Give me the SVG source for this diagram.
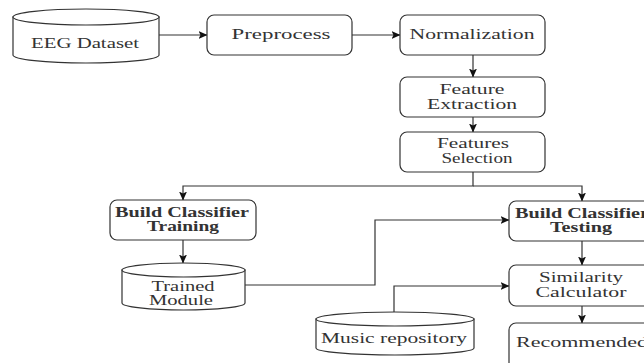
<svg xmlns="http://www.w3.org/2000/svg" width="644" height="363" viewBox="0 0 644 363">
<defs>
<style>
.box{fill:#fff;stroke:#333;stroke-width:1.2}
.cyl{fill:#fff;stroke:#333;stroke-width:1.2}
.t{font-family:"Liberation Serif","Times New Roman",serif;font-size:14px;fill:#333;text-anchor:middle}
.b{font-weight:bold}
.c{fill:none;stroke:#333;stroke-width:1.2}
</style>
<marker id="arr" viewBox="0 0 9 8" refX="8.5" refY="4" markerWidth="9" markerHeight="8" markerUnits="userSpaceOnUse" orient="auto">
<path d="M0,0 L9,4 L0,8 L2,4 Z" fill="#111"/>
</marker>
</defs>
<rect width="644" height="363" fill="#fff"/>

<g id="connectors">
<path class="c" d="M159,35 H207" marker-end="url(#arr)"/>
<path class="c" d="M352,35 H400" marker-end="url(#arr)"/>
<path class="c" d="M473,55 V77" marker-end="url(#arr)"/>
<path class="c" d="M473,117 V132" marker-end="url(#arr)"/>
<path class="c" d="M473,172 V186 H183 V200" marker-end="url(#arr)"/>
<path class="c" d="M473,186 H582 V201" marker-end="url(#arr)"/>
<path class="c" d="M183,240 V263" marker-end="url(#arr)"/>
<path class="c" d="M245,285 H375 V220 H509" marker-end="url(#arr)"/>
<path class="c" d="M582,241 V265" marker-end="url(#arr)"/>
<path class="c" d="M394,312 V286 H509" marker-end="url(#arr)"/>
<path class="c" d="M582,306 V323" marker-end="url(#arr)"/>
</g>

<g id="eeg">
<path class="cyl" d="M13,17 L13,55 A73,8 0 0 0 159,55 L159,17 Z"/>
<ellipse class="cyl" cx="86" cy="17" rx="73" ry="8"/>
<text class="t" x="85" y="48" textLength="108" lengthAdjust="spacingAndGlyphs">EEG Dataset</text>
</g>

<g id="preprocess">
<rect class="box" x="207" y="15" width="145" height="40" rx="7"/>
<text class="t" x="281" y="39" textLength="99" lengthAdjust="spacingAndGlyphs">Preprocess</text>
</g>

<g id="normalization">
<rect class="box" x="400" y="15" width="145" height="40" rx="7"/>
<text class="t" x="472" y="39" textLength="125" lengthAdjust="spacingAndGlyphs">Normalization</text>
</g>

<g id="feature-extraction">
<rect class="box" x="400" y="77" width="145" height="40" rx="7"/>
<text class="t" x="472" y="94" textLength="65" lengthAdjust="spacingAndGlyphs">Feature</text>
<text class="t" x="472" y="109" textLength="90" lengthAdjust="spacingAndGlyphs">Extraction</text>
</g>

<g id="features-selection">
<rect class="box" x="400" y="132" width="145" height="40" rx="7"/>
<text class="t" x="473" y="148" textLength="72" lengthAdjust="spacingAndGlyphs">Features</text>
<text class="t" x="477" y="163" textLength="71" lengthAdjust="spacingAndGlyphs">Selection</text>
</g>

<g id="bc-training">
<rect class="box" x="110" y="200" width="146" height="40" rx="7"/>
<text class="t b" x="182" y="217" textLength="134" lengthAdjust="spacingAndGlyphs">Build Classifier</text>
<text class="t b" x="183" y="231" textLength="72" lengthAdjust="spacingAndGlyphs">Training</text>
</g>

<g id="bc-testing">
<rect class="box" x="509" y="201" width="146" height="40" rx="7"/>
<text class="t b" x="582" y="218" textLength="134" lengthAdjust="spacingAndGlyphs">Build Classifier</text>
<text class="t b" x="581" y="232" textLength="62" lengthAdjust="spacingAndGlyphs">Testing</text>
</g>

<g id="trained-module">
<path class="cyl" d="M122,270 L122,303 A61.5,7 0 0 0 245,303 L245,270 Z"/>
<ellipse class="cyl" cx="183.5" cy="270" rx="61.5" ry="7"/>
<text class="t" x="183" y="291" textLength="63" lengthAdjust="spacingAndGlyphs">Trained</text>
<text class="t" x="181" y="305" textLength="64" lengthAdjust="spacingAndGlyphs">Module</text>
</g>

<g id="similarity">
<rect class="box" x="509" y="265" width="146" height="41" rx="7"/>
<text class="t" x="581" y="282" textLength="84" lengthAdjust="spacingAndGlyphs">Similarity</text>
<text class="t" x="581" y="297" textLength="91" lengthAdjust="spacingAndGlyphs">Calculator</text>
</g>

<g id="music-repository">
<path class="cyl" d="M316,319 L316,348 A79,7 0 0 0 474,348 L474,319 Z"/>
<ellipse class="cyl" cx="395" cy="319" rx="79" ry="7"/>
<text class="t" x="394" y="343" textLength="146" lengthAdjust="spacingAndGlyphs">Music repository</text>
</g>

<g id="recommended">
<rect class="box" x="509" y="323" width="146" height="50" rx="7"/>
<text class="t" x="582" y="347" textLength="132" lengthAdjust="spacingAndGlyphs">Recommended</text>
</g>
</svg>
